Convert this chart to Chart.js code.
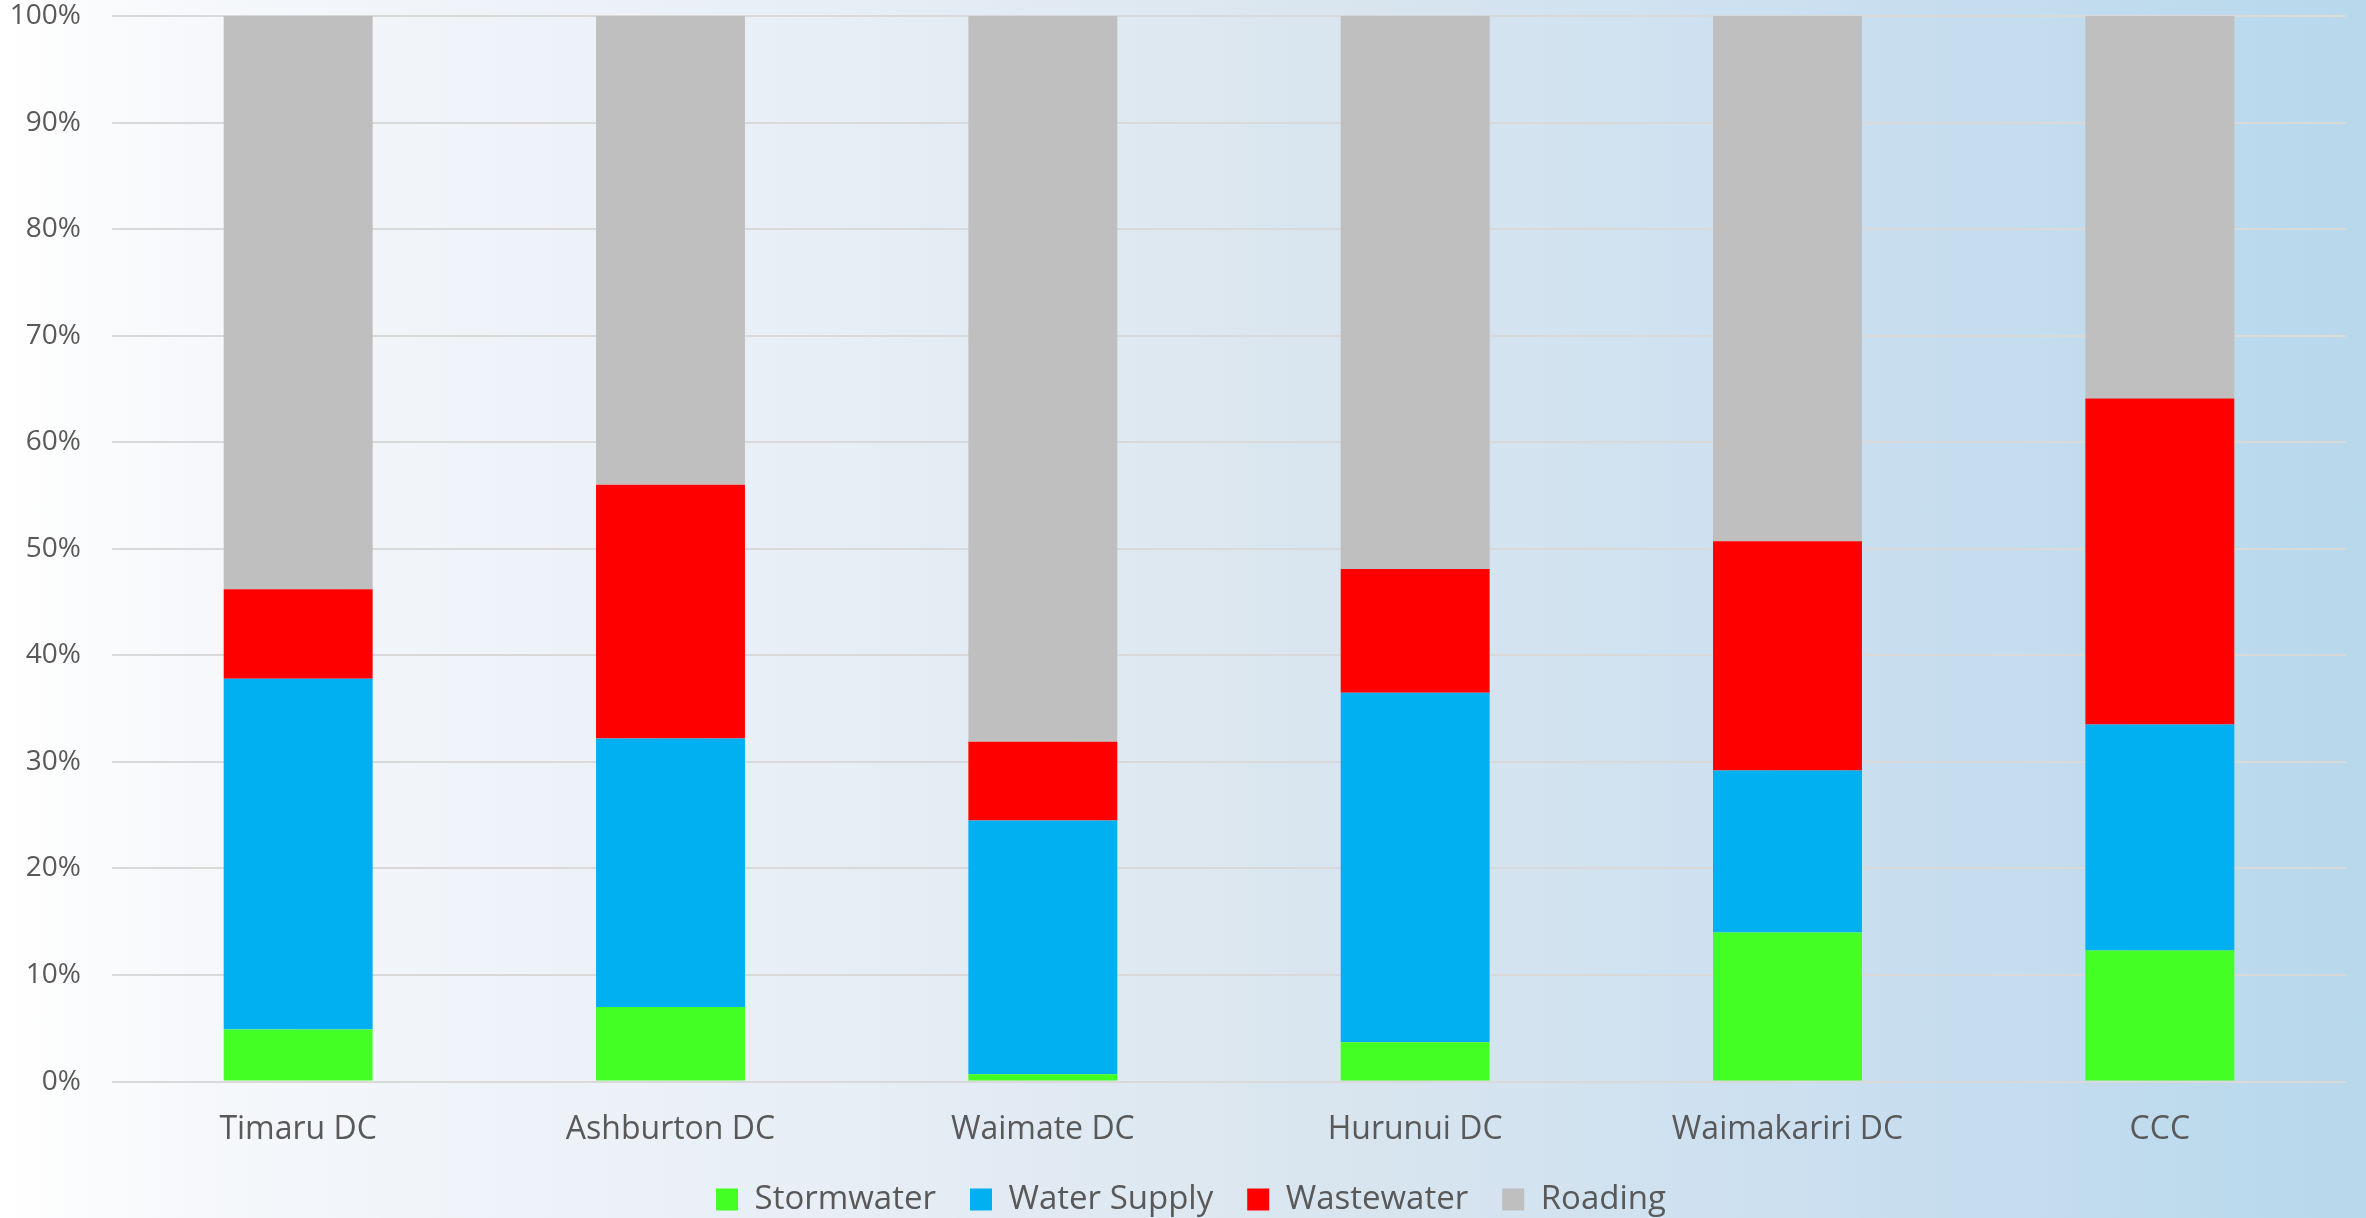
<!DOCTYPE html>
<html>
<head>
<meta charset="utf-8">
<script src="https://cdn.jsdelivr.net/npm/chart.js"></script>
<style>
  html, body { margin: 0; padding: 0; }
  #wrap {
    width: 2366px; height: 1218px;
    background: linear-gradient(to right, #ffffff 0%, #f6f8fb 8%, #e7eef6 35%, #dae6ef 55%, #cadff0 78%, #b8d8ec 100%);
  }
</style>
</head>
<body>
<div id="wrap"><canvas id="grafico" width="2366" height="1218"></canvas></div>
<script>
// categorías y series (porcentaje del total)
const categorias = ['Timaru DC', 'Ashburton DC', 'Waimate DC', 'Hurunui DC', 'Waimakariri DC', 'CCC'];
const stormwater = [4.9, 7.0, 0.7, 3.7, 14.0, 12.3];
const waterSupply = [32.9, 25.2, 23.8, 32.8, 15.2, 21.2];
const wastewater = [8.4, 23.8, 7.4, 11.6, 21.5, 30.6];
const roading = [53.8, 44.0, 68.1, 51.9, 49.3, 35.9];
const yTicks = [0, 10, 20, 30, 40, 50, 60, 70, 80, 90, 100];

const colores = {
  stormwater: '#43ff23',
  waterSupply: '#00b0f0',
  wastewater: '#ff0000',
  roading: '#bfbfbf'
};

function serie(label, data, color) {
  return {
    label: label,
    data: data,
    backgroundColor: color,
    borderWidth: 0,
    barPercentage: 0.4,
    categoryPercentage: 1.0
  };
}

// desplaza la leyenda un poco a la derecha, como en el original
const moverLeyenda = {
  id: 'moverLeyenda',
  afterLayout(chart) {
    if (chart.legend) {
      chart.legend.left += 18;
      chart.legend.right += 18;
    }
  }
};

Chart.defaults.font.family = '"Open Sans", "Noto Sans", sans-serif';
Chart.defaults.color = '#595959';

new Chart(document.getElementById('grafico'), {
  type: 'bar',
  data: {
    labels: categorias,
    datasets: [
      serie('Stormwater', stormwater, colores.stormwater),
      serie('Water Supply', waterSupply, colores.waterSupply),
      serie('Wastewater', wastewater, colores.wastewater),
      serie('Roading', roading, colores.roading)
    ]
  },
  plugins: [moverLeyenda],
  options: {
    responsive: false,
    animation: false,
    layout: { padding: { top: 0, right: 20, left: 0, bottom: -8 } },
    scales: {
      x: {
        stacked: true,
        grid: { display: false },
        border: { display: false },
        ticks: { font: { size: 32 }, padding: 21 },
        afterFit: axis => { axis.height -= 21; }
      },
      y: {
        stacked: true,
        min: 0,
        max: 100,
        afterBuildTicks: axis => { axis.ticks = yTicks.map(v => ({ value: v })); },
        afterFit: axis => {
          // ancho fijo del eje y, sin relleno extra arriba/abajo
          axis.width = 112;
          axis.paddingTop = 16;
          axis.paddingBottom = 0;
        },
        grid: { color: '#d9d9d9', lineWidth: 2, drawTicks: false },
        border: { display: false },
        ticks: {
          font: { size: 28 },
          padding: 31,
          callback: v => v + '%'
        }
      }
    },
    plugins: {
      legend: {
        position: 'bottom',
        labels: {
          font: { size: 33 },
          boxWidth: 22,
          boxHeight: 22,
          padding: 34
        }
      },
      tooltip: { enabled: false }
    }
  }
});
</script>
</body>
</html>
